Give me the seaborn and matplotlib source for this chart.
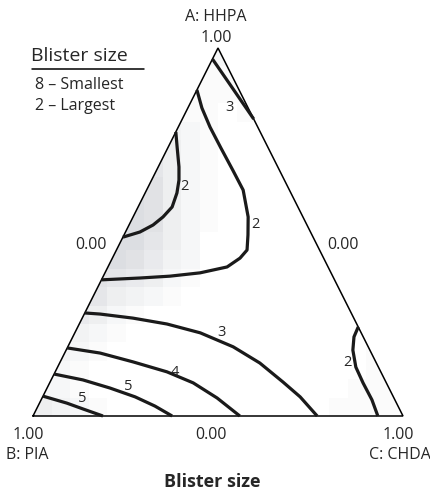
import matplotlib.pyplot as plt
import seaborn as sns
import numpy as np
from matplotlib.colors import LinearSegmentedColormap
from matplotlib.patches import Polygon

# grey shading of the fitted surface, 20 x 20 cells over the triangle's box (0-9 darkness)
shade_rows = [
    "00000000022000000000",
    "00000000011100000000",
    "00000000111100000000",
    "00000002110110000000",
    "00000003210000000000",
    "00000054210000000000",
    "00000064210000000000",
    "00000774210000000000",
    "00000874210000000000",
    "00008874210000000000",
    "00008864200000000000",
    "00088753200000000000",
    "00076542100000000000",
    "00664321000000000000",
    "00542100000000000000",
    "04321000000000000000",
    "03210000000000000010",
    "22100000000000000010",
    "22100000000000000111",
    "43210000000000001111",
]

# contour lines as mixture fractions: A = HHPA, C = CHDA (B = PIA is the rest)
contour_levels = ["5", "5", "4", "3", "2", "2", "2", "3"]
contour_a = [
    [0.054, 0.035, 0.019, 0.0],
    [0.114, 0.098, 0.076, 0.052, 0.027, 0.0],
    [0.185, 0.171, 0.147, 0.120, 0.090, 0.049, 0.0],
    [0.280, 0.277, 0.266, 0.250, 0.226, 0.188, 0.144, 0.092, 0.052, 0.0],
    [0.242, 0.215, 0.179, 0.133, 0.090, 0.044, 0.0],
    [0.886, 0.837, 0.785, 0.728, 0.668, 0.614, 0.541, 0.492, 0.451, 0.429,
     0.405, 0.389, 0.380, 0.375, 0.370],
    [0.772, 0.731, 0.677, 0.641, 0.606, 0.568, 0.541, 0.519, 0.500, 0.486],
    [0.970, 0.900, 0.807],
]
contour_c = [
    [0.0, 0.074, 0.126, 0.189],
    [0.0, 0.086, 0.170, 0.250, 0.316, 0.376],
    [0.0, 0.096, 0.197, 0.302, 0.388, 0.473, 0.559],
    [0.0, 0.043, 0.137, 0.237, 0.339, 0.447, 0.541, 0.630, 0.696, 0.768],
    [0.758, 0.760, 0.775, 0.806, 0.847, 0.894, 0.932],
    [0.0, 0.038, 0.086, 0.144, 0.206, 0.261, 0.311, 0.335, 0.353, 0.345,
     0.322, 0.257, 0.180, 0.102, 0.0],
    [0.0, 0.024, 0.056, 0.074, 0.086, 0.092, 0.081, 0.065, 0.039, 0.0],
    [0.0, 0.083, 0.193],
]
# where each contour's number sits (pixel position in the figure)
label_xy = [(82, 398), (128, 386), (175, 372), (222, 333), (347, 362),
            (255, 225), (184, 187), (230, 107)]

W, H = 431, 495
N = 20


def to_grid(a, c):
    a = np.asarray(a)
    c = np.asarray(c)
    return N * (c + a / 2), N * (1 - a)


sns.set_style("white")
plt.rcParams['font.family'] = ['Open Sans', 'DejaVu Sans']

fig = plt.figure(figsize=(W / 100, H / 100), dpi=100)
ax = fig.add_axes([0, 0, 1, 1])

shade = np.array([[int(ch) for ch in row] for row in shade_rows])
cmap = LinearSegmentedColormap.from_list("grey", ["#ffffff", "#d8dade"])
sns.heatmap(shade, ax=ax, cmap=cmap, vmin=0, vmax=9, cbar=False,
            xticklabels=False, yticklabels=False)

tri = [(0, N), (N, N), (N / 2, 0)]
clip = Polygon(tri, closed=True, facecolor='none', edgecolor='none', transform=ax.transData)
ax.add_patch(clip)
ax.collections[0].set_clip_path(clip)

tx, ty = zip(*(tri + [tri[0]]))
ax.plot(tx, ty, color='black', lw=1.1, solid_joinstyle='miter')

for a, c in zip(contour_a, contour_c):
    x, y = to_grid(a, c)
    ax.plot(x, y, color='#1a1a1a', lw=2.3, solid_capstyle='butt', solid_joinstyle='round')

ax.set_xlim(-33 / 18.5, (W - 33) / 18.5)
ax.set_ylim((H - 48) / 18.4, -48 / 18.4)
ax.set_axis_off()


def put(px, py, s, **kw):
    kw.setdefault('ha', 'center')
    fig.text(px / W, 1 - py / H, s, va='center', **kw)


for (px, py), lev in zip(label_xy, contour_levels):
    put(px, py, lev, fontsize=10.5)

put(216, 17, "A: HHPA", fontsize=11.5)
put(216, 38, "1.00", fontsize=11.5)
put(91, 245, "0.00", fontsize=11.5)
put(343, 245, "0.00", fontsize=11.5)
put(28, 435, "1.00", fontsize=11.5)
put(6, 455, "B: PIA", fontsize=11.5, ha='left')
put(211, 435, "0.00", fontsize=11.5)
put(398, 435, "1.00", fontsize=11.5)
put(431, 455, "C: CHDA", fontsize=11.5, ha='right')
put(212, 482, "Blister size", fontsize=13, fontweight='bold')

put(31, 56, "Blister size", fontsize=14, ha='left')
fig.add_artist(plt.Line2D([32 / W, 144 / W], [1 - 69 / H, 1 - 69 / H], color='black', lw=1.1))
put(35, 85, "8 – Smallest", fontsize=11.5, ha='left')
put(35, 106, "2 – Largest", fontsize=11.5, ha='left')

fig.savefig("out.png", dpi=100)
